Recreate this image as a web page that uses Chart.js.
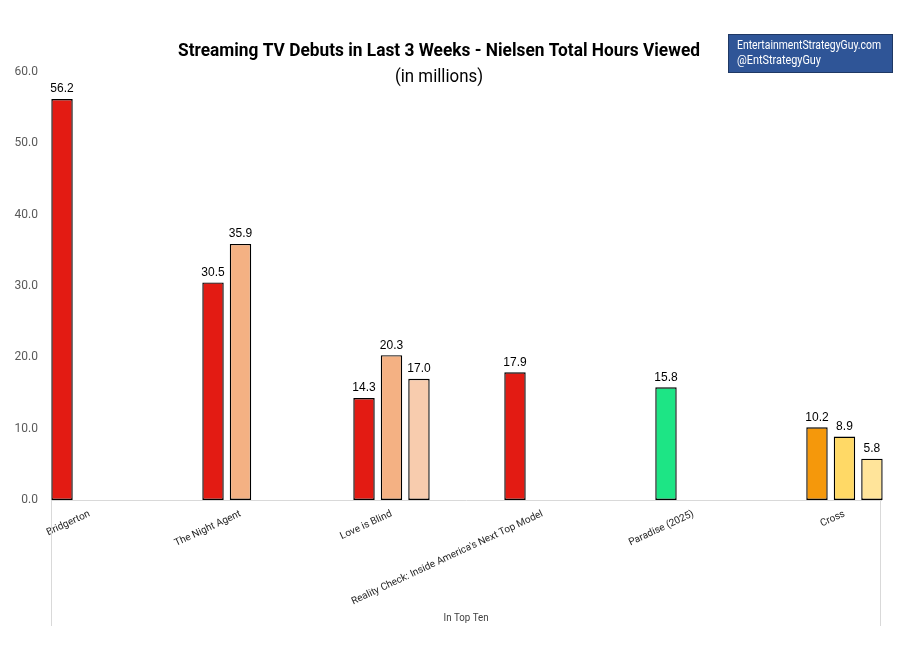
<!DOCTYPE html>
<html>
<head>
<meta charset="utf-8">
<script src="https://cdn.jsdelivr.net/npm/chart.js@4.4.1/dist/chart.umd.min.js"></script>
<style>
  body { margin: 0; background: #fff; }
  #wrap { width: 911px; height: 652px; }
</style>
</head>
<body>
<div id="wrap"><canvas id="chart" width="911" height="652"></canvas></div>
<script>
// valeurs (millions d'heures)
const categories = ['Bridgerton', 'The Night Agent', 'Love is Blind',
  "Reality Check: Inside America's Next Top Model", 'Paradise (2025)', 'Cross'];
const week1 = [56.2, 30.5, 14.3, 17.9, 15.8, 10.2];
const week2 = [null, 35.9, 20.3, null, null, 8.9];
const week3 = [null, null, 17.0, null, null, 5.8];
const yTicks = [0, 10, 20, 30, 40, 50, 60];

const colors1 = ['#E31B13', '#E31B13', '#E31B13', '#E31B13', '#1DE585', '#F5980B'];
const colors2 = ['#F4B183', '#F4B183', '#F4B183', '#F4B183', '#F4B183', '#FFD966'];
const colors3 = ['#F8CCAE', '#F8CCAE', '#F8CCAE', '#F8CCAE', '#F8CCAE', '#FFE49A'];

const narrow = "Roboto, 'Noto Sans', sans-serif";

function toPoints(arr) {
  return arr.map((v, i) => ({ x: i, y: v }));
}

function makeDataset(arr, colors) {
  return {
    data: toPoints(arr),
    backgroundColor: colors,
    borderColor: '#000',
    borderWidth: 1.4,
    borderSkipped: false,
    clip: false,
    categoryPercentage: 0.546,
    barPercentage: 0.78
  };
}

// texte comprimé horizontalement pour imiter une police étroite
function fitText(ctx, text, x, y, width, align) {
  const w = ctx.measureText(text).width;
  const k = Math.min(1, width / w);
  ctx.save();
  ctx.textAlign = 'left';
  let left = x;
  if (align === 'center') left = x - (w * k) / 2;
  ctx.translate(left, y);
  ctx.scale(k, 1);
  ctx.fillText(text, 0, 0);
  ctx.restore();
}

// textes, encadré et boîte "In Top Ten"
const decor = {
  id: 'decor',
  afterDraw(chart) {
    const ctx = chart.ctx;
    const area = chart.chartArea;
    const xs = chart.scales.x;
    ctx.save();

    ctx.fillStyle = '#000';
    ctx.textBaseline = 'middle';
    ctx.font = 'bold 18px ' + narrow;
    fitText(ctx, 'Streaming TV Debuts in Last 3 Weeks - Nielsen Total Hours Viewed', 439, 51, 522, 'center');
    ctx.font = '18px ' + narrow;
    fitText(ctx, '(in millions)', 439, 77, 88, 'center');

    ctx.fillStyle = '#2F5597';
    ctx.fillRect(728, 34, 165, 39);
    ctx.strokeStyle = '#1F3864';
    ctx.lineWidth = 1;
    ctx.strokeRect(728.5, 34.5, 164, 38);
    ctx.fillStyle = '#fff';
    ctx.font = '12px ' + narrow;
    fitText(ctx, 'EntertainmentStrategyGuy.com', 737, 46, 144, 'left');
    fitText(ctx, '@EntStrategyGuy', 737, 61, 84, 'left');

    // boîte de la catégorie supérieure
    ctx.strokeStyle = '#D9D9D9';
    ctx.beginPath();
    ctx.moveTo(area.left + 0.5, area.bottom);
    ctx.lineTo(area.left + 0.5, xs.bottom);
    ctx.moveTo(area.right - 0.5, area.bottom);
    ctx.lineTo(area.right - 0.5, xs.bottom);
    ctx.stroke();
    ctx.fillStyle = '#404040';
    ctx.font = '11px ' + narrow;
    fitText(ctx, 'In Top Ten', (area.left + area.right) / 2, xs.bottom - 8, 45, 'center');

    // étiquettes de valeurs
    ctx.fillStyle = '#000';
    ctx.textAlign = 'center';
    ctx.textBaseline = 'bottom';
    ctx.font = '12px "Liberation Sans", Arial, sans-serif';
    chart.data.datasets.forEach((ds, di) => {
      chart.getDatasetMeta(di).data.forEach((bar, i) => {
        const v = ds.data[i].y;
        if (v === null) return;
        ctx.fillText(v.toFixed(1), bar.x, bar.y - 4);
      });
    });
    ctx.restore();
  }
};

new Chart(document.getElementById('chart'), {
  type: 'bar',
  data: {
    datasets: [makeDataset(week1, colors1), makeDataset(week2, colors2), makeDataset(week3, colors3)]
  },
  options: {
    responsive: false,
    animation: false,
    layout: { padding: { top: 72, right: 30, bottom: 26, left: 0 } },
    plugins: {
      legend: { display: false },
      tooltip: { enabled: false }
    },
    scales: {
      x: {
        type: 'linear',
        offset: false,
        min: -0.255,
        max: 5.242,
        grid: { display: false, drawTicks: false },
        border: { display: true, color: '#D9D9D9', z: 1 },
        afterBuildTicks: s => { s.ticks = s.ticks.filter(t => Number.isInteger(t.value)); },
        afterFit: s => { s.height = 126; },
        ticks: {
          stepSize: 1,
          autoSkip: false,
          minRotation: 25,
          maxRotation: 25,
          padding: 8,
          color: '#262626',
          font: { size: 10, family: narrow },
          callback: v => categories[v]
        }
      },
      y: {
        min: 0,
        max: 60,
        grid: { display: false, drawTicks: false },
        border: { display: false },
        afterBuildTicks: s => { s.ticks = yTicks.map(v => ({ value: v })); },
        afterFit: s => { s.width = 51; },
        ticks: {
          padding: 13,
          color: '#595959',
          font: { size: 12, family: narrow },
          callback: v => v.toFixed(1)
        }
      }
    }
  },
  plugins: [decor]
});
</script>
</body>
</html>
